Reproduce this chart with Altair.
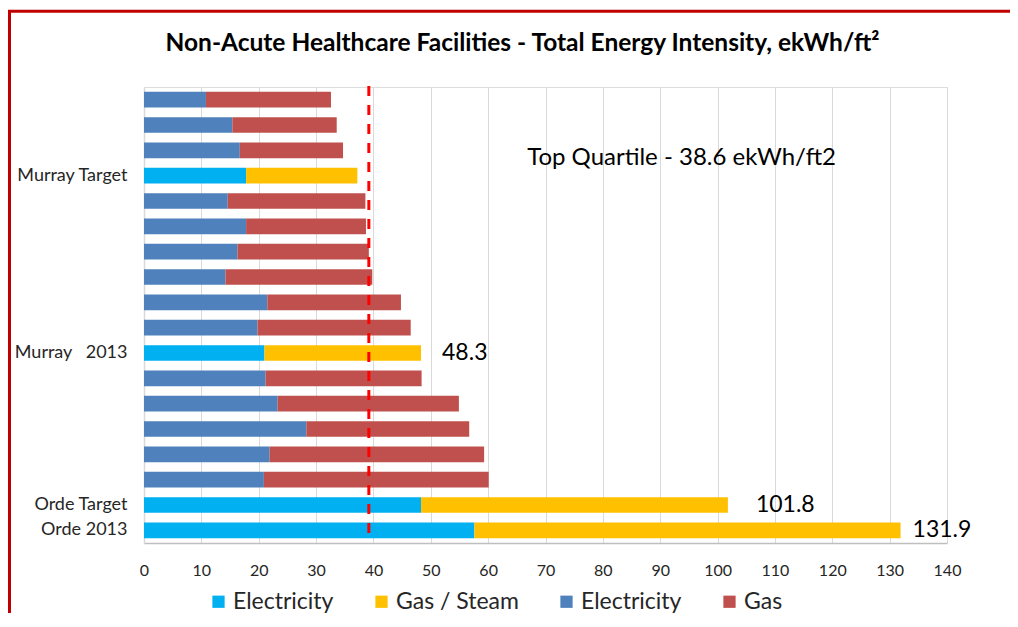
import json
import altair as alt
import pandas as pd

# ---------------- data ----------------
row_labels = ["", "", "", "Murray Target", "", "", "", "", "", "",
              "Murray\u00a0\u00a0\u00a02013", "", "", "", "", "",
              "Orde Target", "Orde 2013"]
is_facility = [False, False, False, True, False, False, False, False, False, False,
               True, False, False, False, False, False, True, True]
electricity = [10.8, 15.4, 16.7, 17.8, 14.6, 17.8, 16.3, 14.2, 21.5,
               19.8, 21.0, 21.2, 23.3, 28.3, 21.9, 20.9, 48.3, 57.6]
gas = [21.8, 18.2, 18.0, 19.4, 24.0, 20.9, 22.9, 25.6, 23.3,
       26.7, 27.3, 27.2, 31.6, 28.4, 37.4, 39.2, 53.5, 74.3]

series_keys = ["fac_elec", "fac_gas", "peer_elec", "peer_gas"]
legend_labels = ["Electricity", "Gas / Steam", "Electricity", "Gas"]
series_colors = ["#00B0F0", "#FFC000", "#4F81BD", "#C0504D"]

quartile_line = 39.2
quartile_text = "Top Quartile - 38.6 ekWh/ft2"
value_label_rows = [10, 16, 17]
value_label_texts = ["48.3", "101.8", "131.9"]
x_ticks = [0, 10, 20, 30, 40, 50, 60, 70, 80, 90, 100, 110, 120, 130, 140]
title_text = "Non-Acute Healthcare Facilities - Total Energy Intensity, ekWh/ft\u00b2"

FONT = "Lato"

# ---------------- tables ----------------
recs = []
for i, (e, g, fac) in enumerate(zip(electricity, gas, is_facility)):
    ek, gk = ("fac_elec", "fac_gas") if fac else ("peer_elec", "peer_gas")
    recs.append({"idx": i, "series": ek, "start": 0.0, "end": e})
    recs.append({"idx": i, "series": gk, "start": e, "end": round(e + g, 2)})
bars_df = pd.DataFrame(recs)

lab_df = pd.DataFrame({
    "idx": value_label_rows,
    "x": [round(electricity[r] + gas[r], 2) for r in value_label_rows],
    "text": value_label_texts,
})

y_label_expr = json.dumps(row_labels, ensure_ascii=False) + "[datum.value]"
leg_expr = "".join(
    f"datum.value == '{k}' ? '{l}' : " for k, l in zip(series_keys, legend_labels)
) + "''"

x_enc = alt.X("start:Q",
              scale=alt.Scale(domain=[0, 140], nice=False),
              axis=alt.Axis(values=x_ticks, title=None, grid=True, gridColor="#D9D9D9",
                            gridWidth=1, domainColor="#BFBFBF", domainWidth=1.5,
                            ticks=False, labelFont=FONT, labelFontSize=16,
                            labelColor="#262626", labelPadding=19, labelFlush=False))
y_scale = alt.Scale(domain=list(range(len(row_labels))), paddingInner=0.38, paddingOuter=0.19)
y_enc = alt.Y("idx:O", scale=y_scale,
              axis=alt.Axis(title=None, labelExpr=y_label_expr, ticks=False,
                            domainColor="#D9D9D9", domainWidth=1.5,
                            labelFont=FONT, labelFontSize=18, labelColor="#262626",
                            labelPadding=17))

bars = alt.Chart(bars_df).mark_bar().encode(
    x=x_enc,
    x2="end:Q",
    y=y_enc,
    color=alt.Color("series:N",
                    scale=alt.Scale(domain=series_keys, range=series_colors),
                    legend=alt.Legend(title=None, orient="none", legendX=63, legendY=503,
                                      direction="horizontal", columns=4,
                                      labelExpr=leg_expr, labelFont=FONT,
                                      labelFontSize=23, labelColor="#262626",
                                      symbolType="square", symbolSize=150,
                                      symbolStrokeWidth=0, labelOffset=3,
                                      columnPadding=36)),
)

qdf = pd.DataFrame({"q": [quartile_line]})
qrule = alt.Chart(qdf).mark_rule(color="#FF0000", strokeWidth=3,
                                 strokeDash=[10, 9]).encode(
    x=alt.X("q:Q"), y=alt.value(-1), y2=alt.value(453))

qtext_df = pd.DataFrame({"x": [66.8], "idx": [2], "text": [quartile_text]})
qtext = alt.Chart(qtext_df).mark_text(align="left", baseline="middle", font=FONT,
                                      fontSize=24, color="#000000", dy=8).encode(
    x="x:Q", y=alt.Y("idx:O", scale=y_scale), text="text:N")

offsets = [21, 28, 12]
vlayers = []
for r, off in zip(value_label_rows, offsets):
    vlayers.append(alt.Chart(lab_df[lab_df["idx"] == r]).mark_text(
        align="left", baseline="middle", font=FONT, fontSize=23, color="#000000", dx=off
    ).encode(x="x:Q", y=alt.Y("idx:O", scale=y_scale), text="text:N"))

# chart title drawn as a text mark (the frame marks would push a real title off the page)
title_df = pd.DataFrame({"t": [title_text]})
title = alt.Chart(title_df).mark_text(align="center", baseline="middle", font=FONT,
                                      fontSize=24.5, fontWeight="bold", color="#000000").encode(
    x=alt.value(378.5), y=alt.value(-43), text="t:N")

# decorative red frame (left and top edges) of the original picture
frame_df = pd.DataFrame({"k": [0]})
frame_left = alt.Chart(frame_df).mark_rule(color="#C00000", strokeWidth=3).encode(
    x=alt.value(-134.5), y=alt.value(-75.7), y2=alt.value(530))
frame_top = alt.Chart(frame_df).mark_rule(color="#C00000", strokeWidth=3).encode(
    x=alt.value(-136), x2=alt.value(870), y=alt.value(-75.7))

chart = alt.layer(bars, qrule, qtext, *vlayers, title, frame_left, frame_top).properties(
    width=803, height=456,
    autosize=alt.AutoSizeParams(type="none"),
    padding={"left": 136, "top": 79, "right": 63, "bottom": 70},
).configure_view(stroke=None).configure(background="#FFFFFF")

chart.save("out.html", embed_options={"renderer": "svg", "actions": False})
